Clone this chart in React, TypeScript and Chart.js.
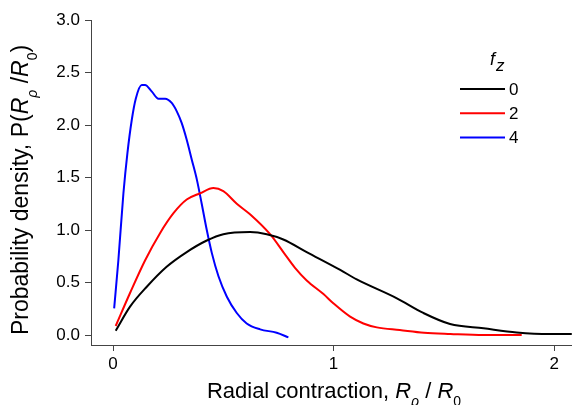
import React, { useEffect, useRef } from "react";
import { Chart, registerables } from "chart.js";

Chart.register(...registerables);

const FONT = '"Liberation Sans", Arial, Helvetica, sans-serif';

// Radial contraction (R_rho / R_0) and probability density for each f_z level
const radialF0 = [0.012, 0.077, 0.153, 0.243, 0.334, 0.425, 0.5, 0.621, 0.697, 0.772, 0.878, 1.03, 1.105, 1.287, 1.407, 1.528, 1.68, 1.83, 1.98, 2.08];
const densityF0 = [0.04, 0.27, 0.46, 0.65, 0.79, 0.9, 0.96, 0.98, 0.96, 0.91, 0.79, 0.62, 0.53, 0.35, 0.21, 0.105, 0.064, 0.025, 0.01, 0.01];

const radialF2 = [0.012, 0.077, 0.145, 0.213, 0.274, 0.334, 0.395, 0.455, 0.5, 0.561, 0.621, 0.712, 0.772, 0.825, 0.878, 0.954, 1.0, 1.075, 1.135, 1.196, 1.3, 1.41, 1.53, 1.68, 1.853];
const densityF2 = [0.086, 0.4, 0.71, 0.97, 1.16, 1.29, 1.35, 1.4, 1.37, 1.25, 1.15, 0.96, 0.79, 0.64, 0.52, 0.39, 0.3, 0.175, 0.11, 0.073, 0.048, 0.022, 0.01, 0.0, 0.0];

const radialF4 = [0.005, 0.024, 0.047, 0.065, 0.085, 0.103, 0.13, 0.145, 0.175, 0.206, 0.236, 0.266, 0.289, 0.311, 0.334, 0.357, 0.38, 0.402, 0.425, 0.448, 0.478, 0.516, 0.561, 0.606, 0.667, 0.742, 0.795];
const densityF4 = [0.254, 0.71, 1.35, 1.73, 2.05, 2.25, 2.38, 2.38, 2.32, 2.25, 2.25, 2.21, 2.13, 2.02, 1.86, 1.67, 1.48, 1.25, 1.0, 0.78, 0.56, 0.365, 0.21, 0.11, 0.054, 0.022, -0.022];

const fzLabels = ["0", "2", "4"];
const seriesColors = ["#000000", "#ff0000", "#0000ff"];

const xTickValues = [0, 1, 2];
const yTickValues = [0, 0.5, 1.0, 1.5, 2.0, 2.5, 3.0];

type Part = { text: string; italic?: boolean; sub?: boolean };

const xTitle: Part[] = [
  { text: "Radial contraction, " },
  { text: "R", italic: true },
  { text: "ρ", italic: true, sub: true },
  { text: " / " },
  { text: "R", italic: true },
  { text: "0", sub: true },
];

const yTitle: Part[] = [
  { text: "Probability density, P(" },
  { text: "R", italic: true },
  { text: "ρ", italic: true, sub: true },
  { text: " /" },
  { text: "R", italic: true },
  { text: "0", sub: true },
  { text: ")" },
];

function partFont(p: Part, size: number) {
  const s = p.sub ? Math.round(size * 0.62) : size;
  return `${p.italic ? "italic " : ""}${s}px ${FONT}`;
}

function drawRich(ctx: CanvasRenderingContext2D, parts: Part[], cx: number, baseline: number, size: number) {
  let total = 0;
  const widths = parts.map((p) => {
    ctx.font = partFont(p, size);
    const w = ctx.measureText(p.text).width;
    total += w;
    return w;
  });
  let x = cx - total / 2;
  ctx.textAlign = "left";
  ctx.textBaseline = "alphabetic";
  ctx.fillStyle = "#000";
  const shift = size * 0.38;
  parts.forEach((p, i) => {
    ctx.font = partFont(p, size);
    ctx.fillText(p.text, x, baseline + (p.sub ? shift : 0));
    x += widths[i];
  });
}

const annotations = {
  id: "annotations",
  afterDraw(chart: Chart) {
    const ctx = chart.ctx;
    ctx.save();
    // axis titles
    drawRich(ctx, xTitle, 334, 398, 22);
    ctx.save();
    ctx.translate(28, 190);
    ctx.rotate(-Math.PI / 2);
    drawRich(ctx, yTitle, 0, 0, 23);
    ctx.restore();

    // legend
    ctx.fillStyle = "#000";
    ctx.textAlign = "left";
    ctx.textBaseline = "alphabetic";
    ctx.font = `italic 18px ${FONT}`;
    ctx.fillText("f", 490, 65);
    ctx.font = `italic 17px ${FONT}`;
    ctx.fillText("z", 496, 71);

    chart.data.datasets.forEach((ds: any, i: number) => {
      const y = 89 + i * 24.3;
      ctx.strokeStyle = ds.borderColor;
      ctx.lineWidth = 2;
      ctx.beginPath();
      ctx.moveTo(460, y);
      ctx.lineTo(505, y);
      ctx.stroke();
      ctx.fillStyle = "#000";
      ctx.font = `17px ${FONT}`;
      ctx.textBaseline = "middle";
      ctx.fillText(String(ds.label), 509, y + 1);
    });
    ctx.restore();
  },
};

function toPoints(xs: number[], ys: number[]) {
  return xs.map((x, i) => ({ x, y: ys[i] }));
}

export default function App() {
  const canvasRef = useRef<HTMLCanvasElement | null>(null);

  useEffect(() => {
    const canvas = canvasRef.current;
    if (!canvas) return;
    const series = [
      [radialF0, densityF0],
      [radialF2, densityF2],
      [radialF4, densityF4],
    ];
    const axisColor = "#444444";
    const chart = new Chart(canvas, {
      type: "line",
      data: {
        datasets: series.map(([xs, ys], i) => ({
          label: fzLabels[i],
          data: toPoints(xs, ys),
          borderColor: seriesColors[i],
          backgroundColor: seriesColors[i],
          borderWidth: 2,
          pointRadius: 0,
          fill: false,
          cubicInterpolationMode: "monotone" as const,
        })),
      },
      options: {
        responsive: false,
        animation: false,
        devicePixelRatio: 1,
        layout: { padding: { top: 20, left: 0, right: 0, bottom: 0 } },
        plugins: {
          legend: { display: false },
          tooltip: { enabled: false },
        },
        scales: {
          x: {
            type: "linear",
            min: -0.1,
            max: 2.081,
            afterBuildTicks: (scale: any) => {
              scale.ticks = xTickValues.map((value) => ({ value }));
            },
            afterFit: (scale: any) => {
              scale.height = 60;
            },
            grid: { display: true, drawOnChartArea: false, drawTicks: true, tickLength: 6, color: axisColor },
            border: { display: true, color: axisColor, width: 1 },
            ticks: {
              font: { family: FONT, size: 17 },
              color: "#000",
              padding: 3,
              maxRotation: 0,
              callback: (v: any) => String(v),
            },
          },
          y: {
            type: "linear",
            min: -0.095,
            max: 3.0,
            afterBuildTicks: (scale: any) => {
              scale.ticks = yTickValues.map((value) => ({ value }));
            },
            afterFit: (scale: any) => {
              scale.width = 91;
            },
            grid: { display: true, drawOnChartArea: false, drawTicks: true, tickLength: 6, color: axisColor },
            border: { display: true, color: axisColor, width: 1 },
            ticks: {
              font: { family: FONT, size: 17 },
              color: "#000",
              padding: 5,
              callback: (v: any) => Number(v).toFixed(1),
            },
          },
        },
      },
      plugins: [annotations],
    });
    return () => chart.destroy();
  }, []);

  return (
    <div style={{ position: "absolute", left: 0, top: 0, width: 572, height: 405, background: "#fff" }}>
      <canvas ref={canvasRef} width={572} height={405} style={{ display: "block" }} />
    </div>
  );
}
